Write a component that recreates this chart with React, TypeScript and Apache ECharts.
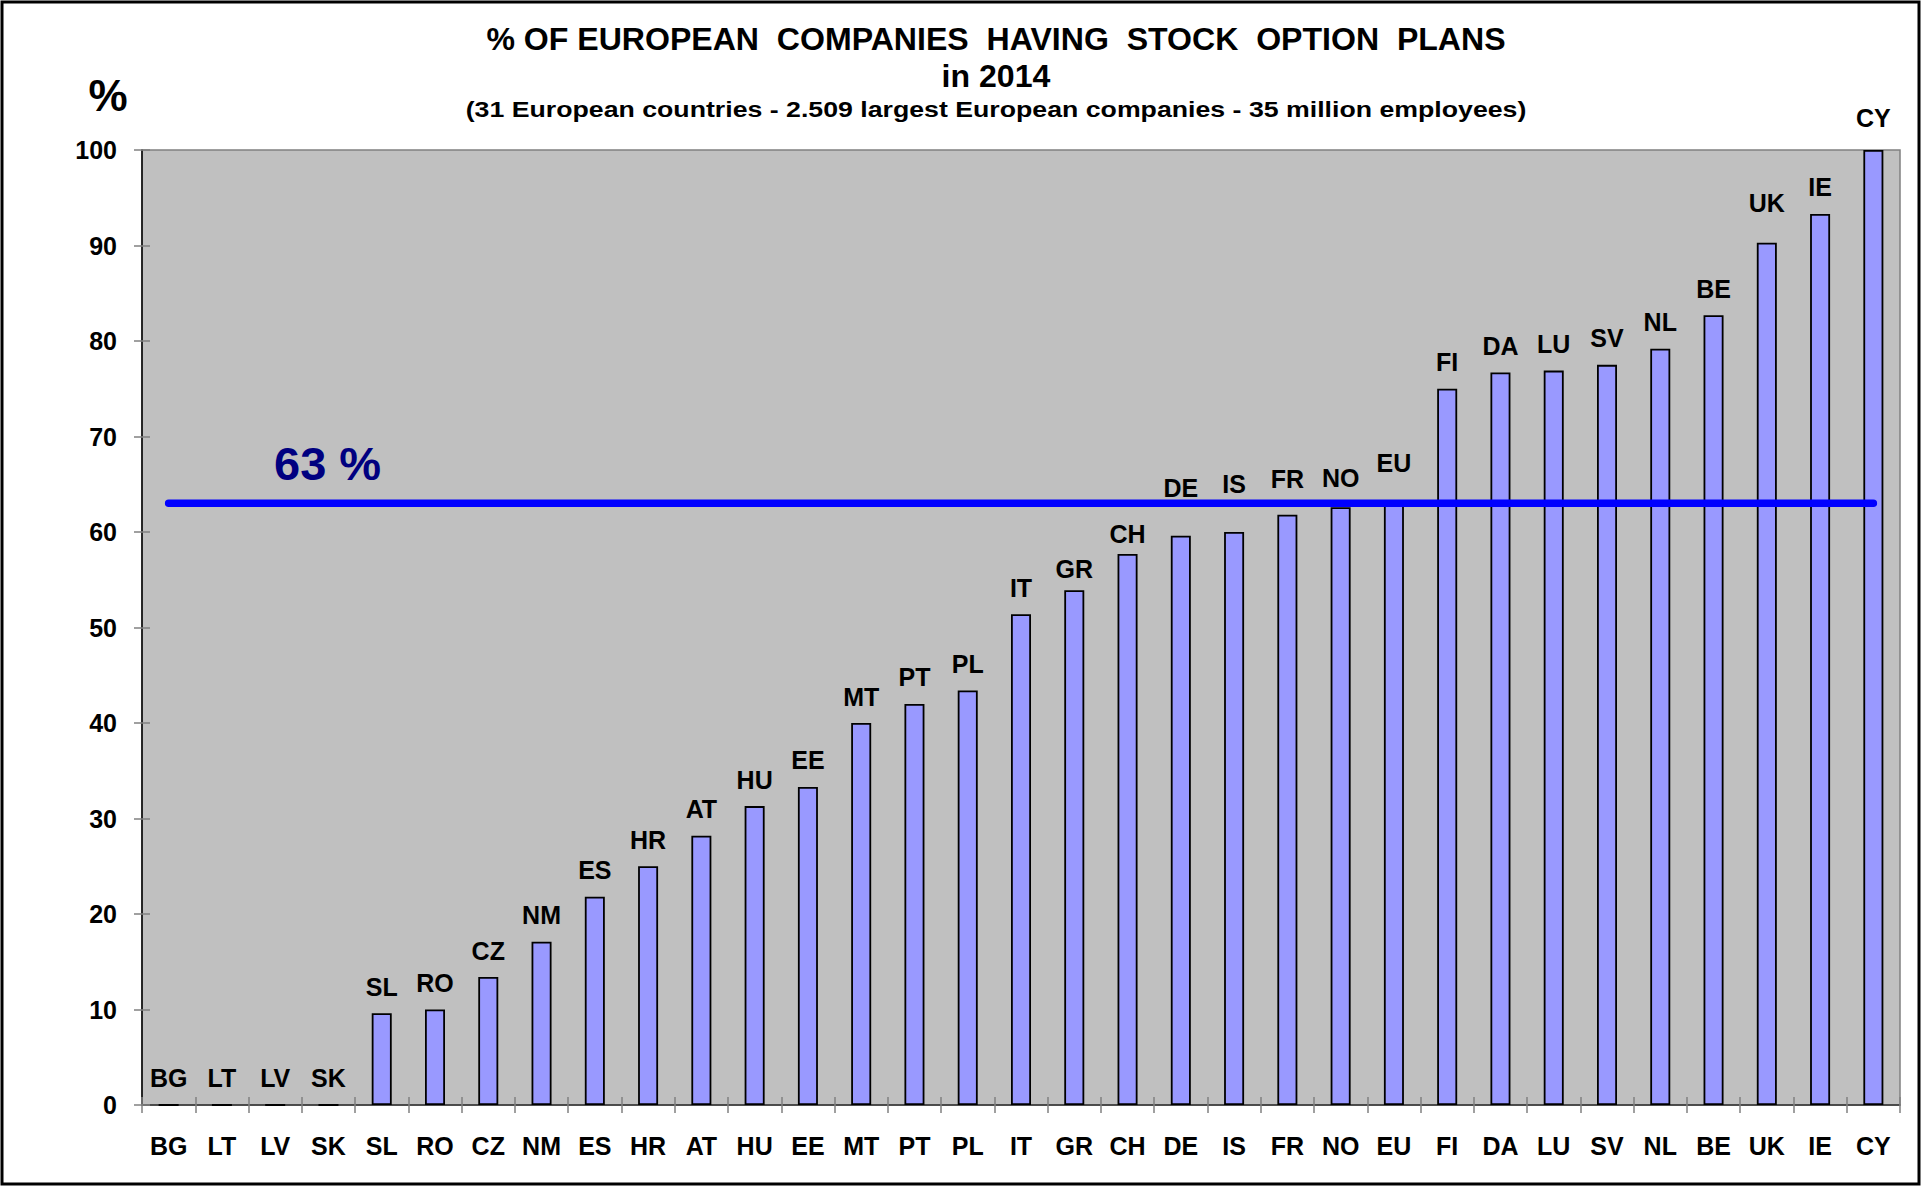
import React, { useEffect, useRef } from "react";
import * as echarts from "echarts";

// ---- data ----
const categories = [
  "BG", "LT", "LV", "SK", "SL", "RO", "CZ", "NM", "ES", "HR", "AT",
  "HU", "EE", "MT", "PT", "PL", "IT", "GR", "CH", "DE", "IS", "FR",
  "NO", "EU", "FI", "DA", "LU", "SV", "NL", "BE", "UK", "IE", "CY",
];
const values = [
  0, 0, 0, 0, 9.6, 10.0, 13.4, 17.1, 21.8, 25.0, 28.2,
  31.3, 33.3, 40.0, 42.0, 43.4, 51.4, 53.9, 57.7, 59.6, 60.0, 61.8,
  62.6, 63.0, 75.0, 76.7, 76.9, 77.5, 79.2, 82.7, 90.3, 93.3, 100,
];
const AVERAGE = 63;
const Y_MIN = 0;
const Y_MAX = 100;
const Y_STEP = 10;

const TITLE = "% OF EUROPEAN \u00A0COMPANIES \u00A0HAVING \u00A0STOCK \u00A0OPTION \u00A0PLANS";
const TITLE2 = "in 2014";
const SUBTITLE =
  "(31 European countries - 2.509 largest European companies - 35 million employees)";
const Y_NAME = "%";

// label nudges (px) for manually moved data labels
const labelLift: Record<string, number> = {
  CH: -7, GR: -5, DE: 21, IS: 22, FR: 9, NO: 3, EU: 14, UK: 13, CY: 6,
};

const FONT = '"Liberation Sans", Arial, Helvetica, sans-serif';

export default function App() {
  const ref = useRef<HTMLDivElement>(null);

  useEffect(() => {
    if (!ref.current) return;
    const chart = echarts.init(ref.current, null, { renderer: "svg" });
    const baseDist = 14;

    chart.setOption({
      animation: false,
      backgroundColor: "#FFFFFF",
      grid: {
        left: 142,
        top: 150,
        width: 1758,
        height: 955,
        show: true,
        backgroundColor: "#C0C0C0",
        borderColor: "#808080",
        borderWidth: 1.5,
      },
      xAxis: [
        {
          type: "category",
          data: categories,
          boundaryGap: true,
          axisLine: { show: true, lineStyle: { color: "#333333", width: 1.5 } },
          axisTick: { show: true, inside: false, length: 8, lineStyle: { color: "#808080", width: 1.5 } },
          axisLabel: {
            show: true,
            margin: 28,
            fontFamily: FONT,
            fontWeight: "bold",
            fontSize: 25,
            color: "#000000",
            interval: 0,
          },
          splitLine: { show: false },
        },
        {
          type: "category",
          data: categories,
          position: "bottom",
          boundaryGap: true,
          axisLine: { show: false },
          axisTick: { show: true, inside: true, length: 8, lineStyle: { color: "#808080", width: 1.5 } },
          axisLabel: { show: false },
          splitLine: { show: false },
        },
      ],
      yAxis: [
        {
          type: "value",
          min: Y_MIN,
          max: Y_MAX,
          interval: Y_STEP,
          axisLine: { show: true, lineStyle: { color: "#000000", width: 1.5 } },
          axisTick: { show: true, inside: false, length: 8, lineStyle: { color: "#808080", width: 1.5 } },
          axisLabel: {
            margin: 25,
            fontFamily: FONT,
            fontWeight: "bold",
            fontSize: 25,
            color: "#000000",
          },
          splitLine: { show: false },
        },
        {
          type: "value",
          min: Y_MIN,
          max: Y_MAX,
          interval: Y_STEP,
          position: "left",
          axisLine: { show: false },
          axisTick: { show: true, inside: true, length: 8, lineStyle: { color: "#808080", width: 1.5 } },
          axisLabel: { show: false },
          splitLine: { show: false },
        },
      ],
      series: [
        {
          type: "bar",
          xAxisIndex: 0,
          yAxisIndex: 0,
          barWidth: 20,
          z: 2,
          data: values.map((v, i) => ({
            value: v,
            label: { distance: baseDist + (labelLift[categories[i]] ?? 0) },
          })),
          itemStyle: { color: "#9999FF", borderColor: "#000000", borderWidth: 1.8 },
          label: {
            show: true,
            position: "top",
            formatter: "{b}",
            fontFamily: FONT,
            fontWeight: "bold",
            fontSize: 25,
            color: "#000000",
          },
        },
        {
          type: "line",
          xAxisIndex: 0,
          yAxisIndex: 0,
          z: 3,
          symbol: "none",
          data: categories.map(() => AVERAGE),
          lineStyle: { color: "#0000FF", width: 7.5, cap: "round" },
        },
      ],
      graphic: [
        {
          type: "rect",
          shape: { x: 2, y: 2, width: 1917, height: 1182 },
          style: { fill: "none", stroke: "#000000", lineWidth: 3 },
          z: 10,
        },
        {
          type: "text",
          x: 996,
          y: 39,
          scaleX: 1.035,
          style: {
            text: TITLE,
            fontFamily: FONT,
            fontWeight: "bold",
            fontSize: 31,
            fill: "#000000",
            textAlign: "center",
            textVerticalAlign: "middle",
          },
        },
        {
          type: "text",
          x: 996,
          y: 76,
          scaleX: 1.035,
          style: {
            text: TITLE2,
            fontFamily: FONT,
            fontWeight: "bold",
            fontSize: 31,
            fill: "#000000",
            textAlign: "center",
            textVerticalAlign: "middle",
          },
        },
        {
          type: "text",
          x: 996,
          y: 109,
          scaleX: 1.214,
          style: {
            text: SUBTITLE,
            fontFamily: FONT,
            fontWeight: "bold",
            fontSize: 22,
            fill: "#000000",
            textAlign: "center",
            textVerticalAlign: "middle",
          },
        },
        {
          type: "text",
          x: 108,
          y: 95,
          style: {
            text: Y_NAME,
            fontFamily: FONT,
            fontWeight: "bold",
            fontSize: 44,
            fill: "#000000",
            textAlign: "center",
            textVerticalAlign: "middle",
          },
        },
        {
          type: "text",
          x: 274,
          y: 463,
          z: 5,
          style: {
            text: `${AVERAGE} %`,
            fontFamily: FONT,
            fontWeight: "bold",
            fontSize: 47,
            fill: "#000080",
            textAlign: "left",
            textVerticalAlign: "middle",
          },
        },
      ],
    });

    return () => chart.dispose();
  }, []);

  return (
    <div
      ref={ref}
      style={{ position: "fixed", left: 0, top: 0, width: 1923, height: 1187, background: "#fff" }}
    />
  );
}
